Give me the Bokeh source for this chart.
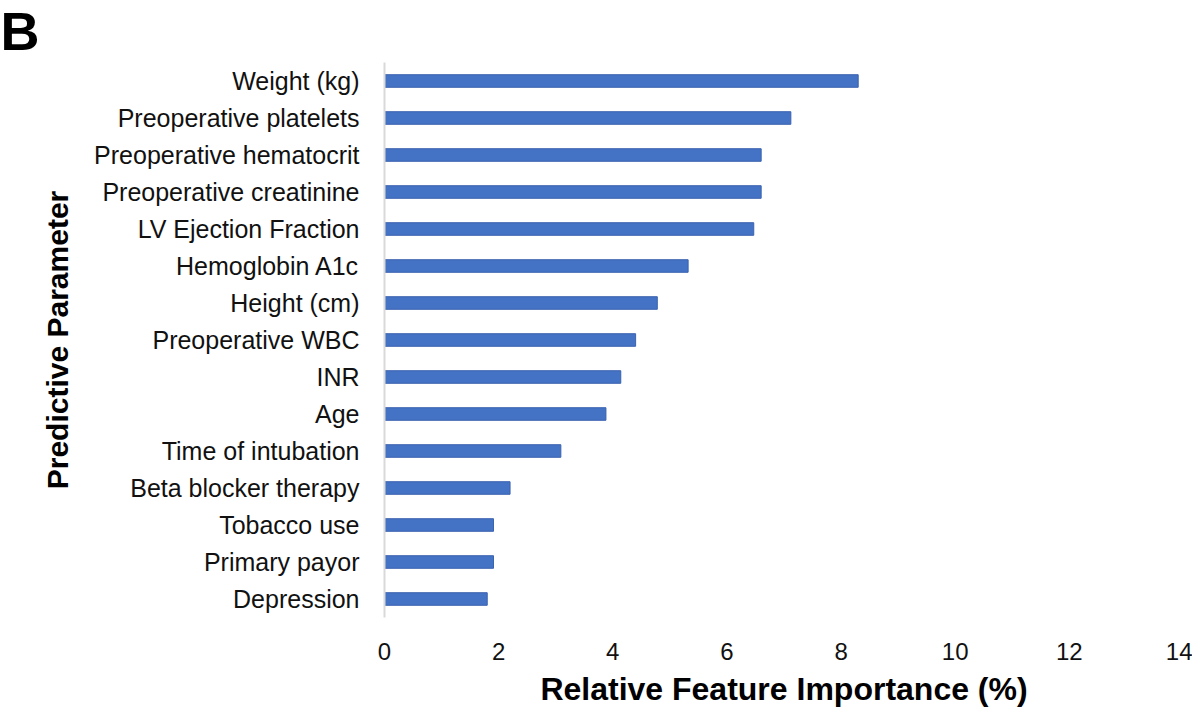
from bokeh.plotting import figure
from bokeh.models import FactorRange, Range1d, ColumnDataSource, FixedTicker
from bokeh.embed import file_html
from bokeh.resources import INLINE

parameters = [
    "Weight (kg)", "Preoperative platelets", "Preoperative hematocrit",
    "Preoperative creatinine", "LV Ejection Fraction", "Hemoglobin A1c",
    "Height (cm)", "Preoperative WBC", "INR", "Age", "Time of intubation",
    "Beta blocker therapy", "Tobacco use", "Primary payor", "Depression",
]
importance = [8.30, 7.12, 6.60, 6.60, 6.47, 5.32, 4.78, 4.40, 4.14, 3.88,
              3.09, 2.20, 1.91, 1.91, 1.80]
x_ticks = [0, 2, 4, 6, 8, 10, 12, 14]

FONT = "Liberation Sans"

source = ColumnDataSource(dict(param=parameters, value=importance))

p = figure(
    width=1192, height=709,
    y_range=FactorRange(factors=list(reversed(parameters)), range_padding=0),
    x_range=Range1d(0, 14),
    output_backend="svg", toolbar_location=None,
    title="B",
    min_border_left=384, min_border_top=0, min_border_right=9,
    min_border_bottom=80,
)
p.title.align = "left"
p.title.vertical_align = "top"
p.title.offset = -384
p.title.standoff = 0
p.title.text_font = FONT
p.title.text_font_size = "54px"
p.title.text_font_style = "bold"
p.title.text_color = "#000000"

p.hbar(y="param", right="value", left=0, height=0.34, source=source,
       fill_color="#4472C4", line_color="#3A63B0", line_width=1)

p.outline_line_color = None
p.xgrid.grid_line_color = None
p.ygrid.grid_line_color = None

xa = p.xaxis[0]
xa.ticker = FixedTicker(ticks=x_ticks)
xa.axis_line_color = None
xa.major_tick_line_color = None
xa.minor_tick_line_color = None
xa.major_label_text_font = FONT
xa.major_label_text_font_size = "24px"
xa.major_label_text_color = "#111111"
xa.major_label_standoff = 19
xa.axis_label = "Relative Feature Importance (%)"
xa.axis_label_text_font = FONT
xa.axis_label_text_font_size = "32px"
xa.axis_label_text_font_style = "bold"
xa.axis_label_text_color = "#000000"
xa.axis_label_standoff = 8

ya = p.yaxis[0]
ya.axis_line_color = "#D9D9D9"
ya.axis_line_width = 2
ya.major_tick_line_color = None
ya.minor_tick_line_color = None
ya.major_label_text_font = FONT
ya.major_label_text_font_size = "25px"
ya.major_label_text_color = "#111111"
ya.major_label_standoff = 19
ya.axis_label = "Predictive Parameter"
ya.axis_label_text_font = FONT
ya.axis_label_text_font_size = "30px"
ya.axis_label_text_font_style = "bold"
ya.axis_label_text_color = "#000000"
ya.axis_label_standoff = 17

open("out.html", "w").write(file_html(p, INLINE))
